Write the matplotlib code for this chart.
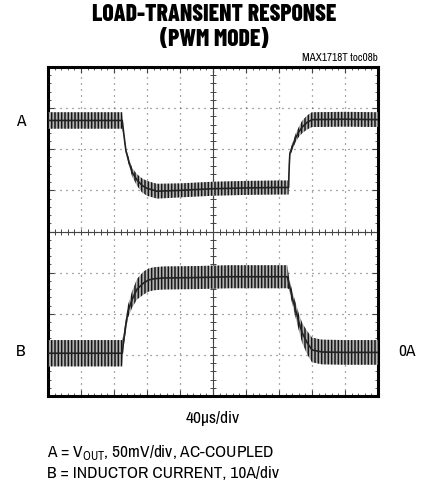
import numpy as np
import matplotlib
matplotlib.use("Agg")
import matplotlib.pyplot as plt

plt.rcParams['font.family'] = ['Archivo Narrow', 'DejaVu Sans']
plt.rcParams['mathtext.fontset'] = 'custom'
plt.rcParams['mathtext.rm'] = 'Archivo Narrow'
plt.rcParams['hatch.linewidth'] = 1.1

# trace A: output voltage (divisions), time in divisions (40us/div)
t_a = [0, 2.25, 2.3, 2.36, 2.45, 2.55, 2.7, 2.85, 3.0, 3.3, 4.0, 5.0, 6.0, 7.0, 7.29,
       7.31, 7.33, 7.4, 7.5, 7.6, 7.7, 7.85, 8.0, 9.0, 10]
v_a = [6.70, 6.70, 6.35, 5.97, 5.70, 5.44, 5.25, 5.12, 5.05, 4.98, 5.00, 5.04, 5.06, 5.07, 5.07,
       5.60, 5.90, 6.05, 6.27, 6.42, 6.54, 6.65, 6.72, 6.73, 6.72]
r_a = [0.20, 0.20, 0.06, 0.06, 0.08, 0.10, 0.14, 0.17, 0.18, 0.18, 0.17, 0.17, 0.17, 0.17, 0.17,
       0.06, 0.06, 0.08, 0.10, 0.12, 0.15, 0.17, 0.18, 0.18, 0.18]

# trace B: inductor current (divisions)
t_b = [0, 2.25, 2.3, 2.42, 2.55, 2.7, 2.9, 3.05, 3.2, 3.5, 4.5, 5.5, 6.5, 7.25,
       7.3, 7.4, 7.5, 7.6, 7.7, 7.85, 8.0, 8.3, 9.0, 10]
v_b = [1.04, 1.04, 1.40, 2.05, 2.35, 2.60, 2.75, 2.82, 2.85, 2.87, 2.88, 2.90, 2.90, 2.90,
       2.75, 2.40, 2.10, 1.80, 1.54, 1.30, 1.12, 1.07, 1.06, 1.06]
r_b = [0.32, 0.32, 0.15, 0.15, 0.20, 0.25, 0.28, 0.28, 0.28, 0.28, 0.28, 0.28, 0.28, 0.28,
       0.15, 0.15, 0.18, 0.20, 0.24, 0.28, 0.30, 0.30, 0.30, 0.30]

fig = plt.figure(figsize=(4.29, 4.87), dpi=100)
ax = fig.add_axes([48/429, 91/487, 330/429, 329/487])
ax.set_xlim(0, 10)
ax.set_ylim(0, 8)

# graticule
ax.set_xticks(range(0, 11))
ax.set_yticks(range(0, 9))
ax.set_xticks(np.arange(0, 10.01, 0.2), minor=True)
ax.set_yticks(np.arange(0, 8.01, 0.2), minor=True)
ax.tick_params(which='both', direction='in', top=True, right=True,
               labelbottom=False, labelleft=False, color='#444')
ax.tick_params(which='major', length=4, width=0.8)
ax.tick_params(which='minor', length=2.2, width=0.6)
ax.grid(True, which='major', color='#555', linewidth=0.9, linestyle=(0, (0.8, 4.0)))
for s in ax.spines.values():
    s.set_linewidth(2.2)
    s.set_color('black')

ax.axhline(4, color='#444', linewidth=0.8)
ax.axvline(5, color='#444', linewidth=0.8)
mx = np.arange(0, 10.01, 0.2)
my = np.arange(0, 8.01, 0.2)
ax.plot(mx, np.full_like(mx, 4), ls='none', marker='|', ms=4, mew=0.7, color='#444')
ax.plot(np.full_like(my, 5), my, ls='none', marker='_', ms=4, mew=0.7, color='#444')

for t, v, r in [(t_a, v_a, r_a), (t_b, v_b, r_b)]:
    t = np.array(t); v = np.array(v); r = np.array(r)
    ax.fill_between(t, v - r, v + r, facecolor='#b4b4b4', edgecolor='#151515',
                    hatch='|||||', linewidth=0, zorder=3)
    ax.plot(t, v, color='#222', linewidth=1.2, zorder=4)

title_font = dict(family=['Barlow Condensed', 'DejaVu Sans'], fontweight=800, fontsize=17)
fig.text(214/429, 1 - 15/487, 'LOAD-TRANSIENT RESPONSE', ha='center', va='center', **title_font)
fig.text(214/429, 1 - 40/487, '(PWM MODE)', ha='center', va='center', **title_font)
fig.text(378/429, 1 - 58/487, 'MAX1718T toc08b', ha='right', va='center', fontsize=8)

fig.text(21/429, 1 - 121/487, 'A', ha='center', va='center', fontsize=12.5)
fig.text(21/429, 1 - 351/487, 'B', ha='center', va='center', fontsize=12.5)
fig.text(407/429, 1 - 351/487, '0A', ha='center', va='center', fontsize=12.5)
fig.text(213/429, 1 - 418/487, '40\u00b5s/div', ha='center', va='center', fontsize=12.5)
fig.text(47/429, 1 - 452/487, r'A = V$_{\mathrm{OUT}}$, 50mV/div, AC-COUPLED',
         ha='left', va='center', fontsize=12.5)
fig.text(47/429, 1 - 473/487, 'B = INDUCTOR CURRENT, 10A/div',
         ha='left', va='center', fontsize=12.5)

fig.savefig('out.png', dpi=100)
